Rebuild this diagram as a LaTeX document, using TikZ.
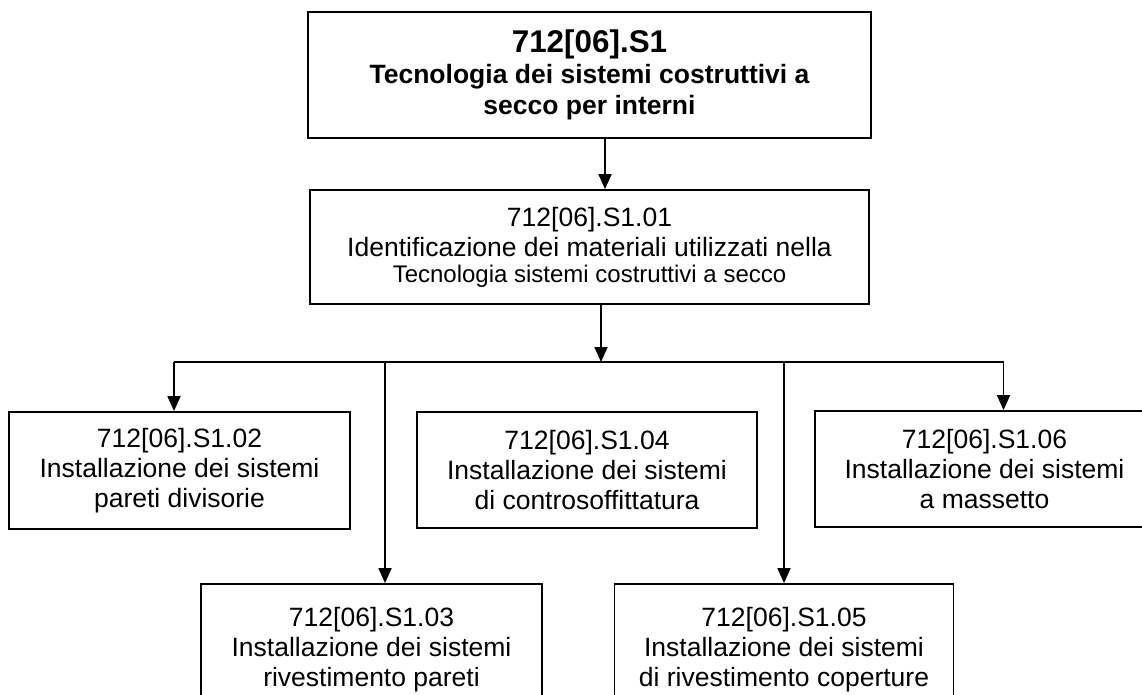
\documentclass[tikz,border=0pt]{standalone}
\usepackage{fontspec}
\setmainfont{Liberation Sans}
\usetikzlibrary{arrows.meta}
\tikzset{
  boxnode/.style={draw=black, line width=1.8pt, fill=white, align=center, inner sep=0pt,
    font=\fontsize{26.5}{30}\selectfont},
  conn/.style={draw=black, line width=1.8pt},
  arr/.style={conn, -{Triangle[length=15pt,width=13pt]}}
}
\begin{document}
\begin{tikzpicture}[x=1pt,y=-1pt]
\useasboundingbox (0,0) rectangle (1142,695);
\fill[white] (0,0) rectangle (1142,695);

\node[boxnode, minimum width=563pt, minimum height=126pt, font=\fontsize{26.5}{31}\selectfont\bfseries] (top) at (589.5,75)
  {{\fontsize{31.4}{31}\selectfont 712[06].S1}\\Tecnologia dei sistemi costruttivi a\\secco per interni};

\node[boxnode, minimum width=559pt, minimum height=114pt] (s01) at (589.5,247)
  {712[06].S1.01\\Identificazione dei materiali utilizzati nella\\[-4pt]{\fontsize{24}{26}\selectfont Tecnologia sistemi costruttivi a secco}};

\node[boxnode, minimum width=341pt, minimum height=117pt] (s02) at (179.5,470.5)
  {712[06].S1.02\\Installazione dei sistemi\\pareti divisorie};

\node[boxnode, minimum width=340pt, minimum height=116pt] (s04) at (587,470)
  {712[06].S1.04\\Installazione dei sistemi\\di controsoffittatura};

\node[boxnode, minimum width=339pt, minimum height=116pt] (s06) at (984.5,469)
  {712[06].S1.06\\Installazione dei sistemi\\a massetto};

\node[boxnode, minimum width=341pt, minimum height=131pt] (s03) at (371.5,649.5)
  {712[06].S1.03\\Installazione dei sistemi\\rivestimento pareti};

\node[boxnode, minimum width=339pt, minimum height=131pt] (s05) at (784,649.5)
  {712[06].S1.05\\Installazione dei sistemi\\di rivestimento coperture};

\coordinate (c1) at (605,0);
\coordinate (c2) at (601,0);
\coordinate (busL) at (174,362);
\coordinate (busR) at (1003.5,362);
\coordinate (c3) at (385,362);

\draw[arr] (top.south -| c1) -- (s01.north -| c1);
\draw[arr] (s01.south -| c2) -- (busL -| c2);
\draw[conn] (busL) -- (busR);
\draw[arr] (busL) -- (s02.north -| busL);
\draw[arr] (busR) -- (s06.north -| busR);
\draw[arr] (c3) -- (s03.north -| c3);
\draw[arr] (s05.north |- busL) -- (s05.north);
\end{tikzpicture}
\end{document}
